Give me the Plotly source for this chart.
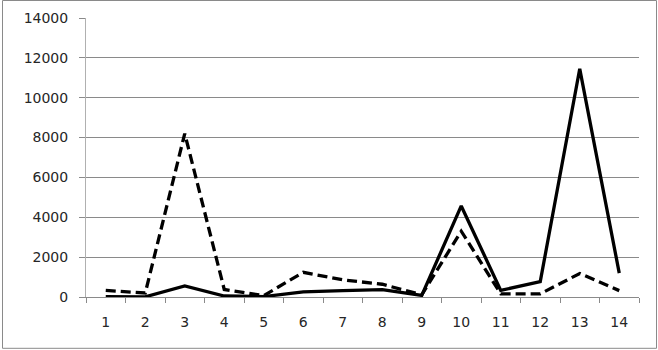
import plotly.graph_objects as go

categories = [str(i) for i in range(1, 15)]
solid_values = [20, 10, 560, 50, 20, 260, 320, 370, 80, 4570, 330, 770, 11450, 1200]
dashed_values = [330, 200, 8200, 380, 70, 1240, 860, 640, 110, 3300, 160, 160, 1180, 320]
y_ticks = [0, 2000, 4000, 6000, 8000, 10000, 12000, 14000]
y_tick_labels = [str(v) for v in y_ticks]

W, H = 658, 350
ML, MR, MT, MB = 86, 19, 18, 53

fig = go.Figure()
fig.add_trace(go.Scatter(x=categories, y=dashed_values, mode="lines",
                         line=dict(color="black", width=3.3, dash="10px,5px"),
                         showlegend=False))
fig.add_trace(go.Scatter(x=categories, y=solid_values, mode="lines",
                         line=dict(color="black", width=3.3),
                         showlegend=False))

pw = W - ML - MR
ph = H - MT - MB
fig.add_shape(type="rect", xref="paper", yref="paper",
              x0=(2.5 - ML) / pw, x1=(656.5 - ML) / pw,
              y0=(H - 348.3 - MB) / ph, y1=(H - 0.5 - MB) / ph,
              line=dict(color="#8a8a8a", width=1), fillcolor="rgba(0,0,0,0)", layer="below")

fig.update_layout(
    width=W, height=H,
    margin=dict(l=ML, r=MR, t=MT, b=MB, pad=0, autoexpand=False),
    paper_bgcolor="white", plot_bgcolor="white",
    font=dict(family="DejaVu Sans", size=14, color="#262626"),
    xaxis=dict(type="category", range=[-0.5, 13.5], automargin=False,
               showgrid=False, showline=True, linecolor="#8a8a8a",
               linewidth=1, ticks="outside", tickson="boundaries", ticklen=5,
               tickcolor="#8a8a8a", zeroline=False, fixedrange=True,
               ticklabelstandoff=12),
    yaxis=dict(range=[0, 14000], tickvals=y_ticks, ticktext=y_tick_labels,
               automargin=False, showgrid=True, gridcolor="#8a8a8a",
               gridwidth=1, showline=True, linecolor="#b0b0b0", ticks="outside",
               ticklen=6, tickcolor="#8a8a8a", zeroline=False, fixedrange=True,
               ticklabelstandoff=8),
)

fig.write_html("out.html", config={"displayModeBar": False},
               post_script="document.body.style.margin='0';document.body.style.overflow='hidden';")
